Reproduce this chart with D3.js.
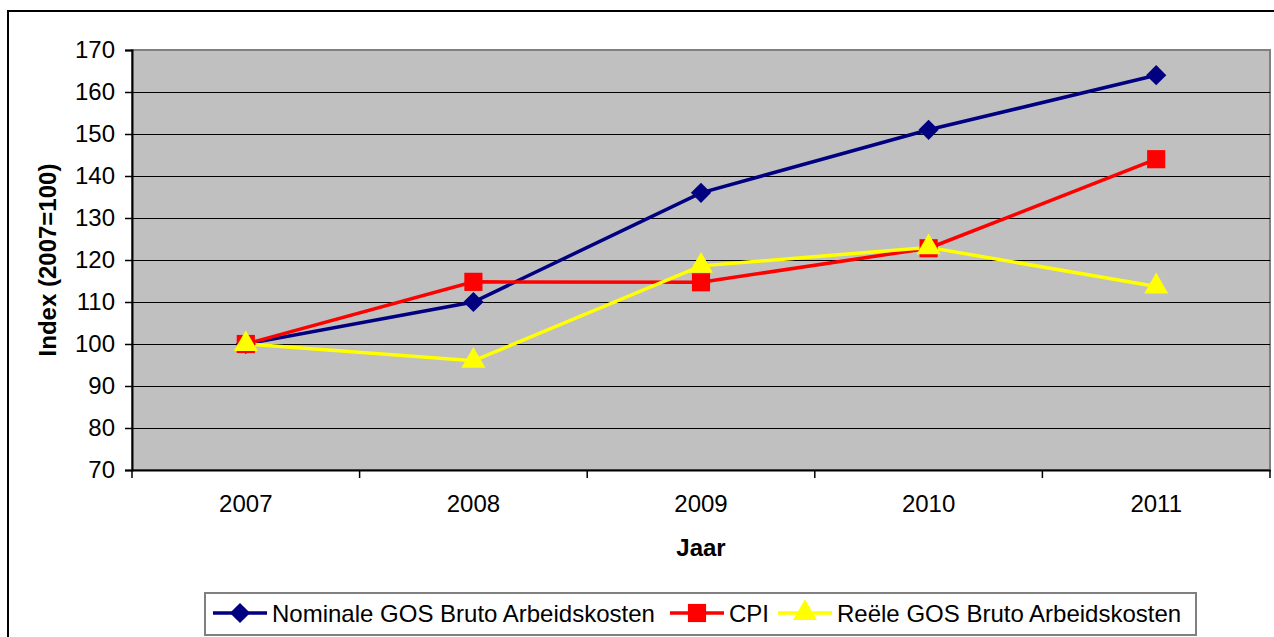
<!DOCTYPE html>
<html lang="nl">
<head>
<meta charset="UTF-8">
<title>Index GOS Bruto Arbeidskosten</title>
<style>
    body { margin: 0; background: #fff; font-family: 'Liberation Sans', Arial, sans-serif; }
    svg { display: block; }
    .grid line { stroke: #000; stroke-width: 1px; }
</style>
<script src="https://d3js.org/d3.v7.min.js"></script>
</head>
<body>
<svg id="chart" width="1274" height="637"></svg>
<script>
    // data
    const years = ["2007", "2008", "2009", "2010", "2011"];
    const nominaal = [100, 110, 136, 151, 164];
    const cpi = [100, 114.8, 114.7, 122.8, 144];
    const reeel = [100, 96, 118.6, 123, 113.7];
    const yTicks = [70, 80, 90, 100, 110, 120, 130, 140, 150, 160, 170];

    const series = [
        { name: "Nominale GOS Bruto Arbeidskosten", values: nominaal, color: "#000080", marker: "diamond" },
        { name: "CPI", values: cpi, color: "#ff0000", marker: "square" },
        { name: "Reële GOS Bruto Arbeidskosten", values: reeel, color: "#ffff00", marker: "triangle" }
    ];

    const svg = d3.select("#chart");
    const plot = { left: 132, right: 1270, top: 50, bottom: 470 };
    const fontSize = 24;
    const fontFamily = "'Liberation Sans', Arial, sans-serif";

    // outer chart border (top and left visible)
    svg.append("rect")
        .attr("x", 8).attr("y", 11)
        .attr("width", 1280).attr("height", 640)
        .attr("fill", "none").attr("stroke", "#000").attr("stroke-width", 2);

    const x = d3.scaleBand().domain(years).range([plot.left, plot.right]);
    const y = d3.scaleLinear().domain([70, 170]).range([plot.bottom, plot.top]);

    // plot area
    svg.append("rect")
        .attr("x", plot.left).attr("y", plot.top)
        .attr("width", plot.right - plot.left).attr("height", plot.bottom - plot.top)
        .attr("fill", "#c0c0c0").attr("stroke", "#808080").attr("stroke-width", 2);

    // gridlines
    svg.append("g").attr("class", "grid")
        .selectAll("line").data(yTicks.slice(1, -1)).join("line")
        .attr("x1", plot.left).attr("x2", plot.right)
        .attr("y1", d => Math.round(y(d)) + 0.5).attr("y2", d => Math.round(y(d)) + 0.5);

    // y axis
    const yAxis = svg.append("g")
        .attr("transform", `translate(${plot.left},0)`)
        .call(d3.axisLeft(y).tickValues(yTicks).tickSize(7).tickPadding(10));
    yAxis.select(".domain").attr("stroke", "#000").attr("stroke-width", 2);
    yAxis.selectAll(".tick line").attr("stroke", "#000").attr("stroke-width", 1.5);
    yAxis.selectAll("text").attr("font-size", fontSize).attr("font-family", fontFamily).attr("fill", "#000");

    // x axis
    const xAxis = svg.append("g")
        .attr("transform", `translate(0,${plot.bottom})`)
        .call(d3.axisBottom(x).tickSize(0).tickPadding(25));
    xAxis.select(".domain").attr("stroke", "#000").attr("stroke-width", 2);
    xAxis.selectAll("text").attr("font-size", fontSize).attr("font-family", fontFamily).attr("fill", "#000");
    // category boundary ticks
    const bounds = years.map(d => x(d)).concat([x(years[years.length - 1]) + x.bandwidth()]);
    xAxis.selectAll(".bound").data(bounds).join("line")
        .attr("class", "bound")
        .attr("x1", d => d).attr("x2", d => d)
        .attr("y1", 0).attr("y2", 8)
        .attr("stroke", "#000").attr("stroke-width", 1.5);

    // axis titles
    svg.append("text")
        .attr("transform", `translate(56,${(plot.top + plot.bottom) / 2}) rotate(-90)`)
        .attr("text-anchor", "middle")
        .attr("font-size", fontSize).attr("font-weight", "bold")
        .text("Index (2007=100)");
    svg.append("text")
        .attr("x", (plot.left + plot.right) / 2).attr("y", 556)
        .attr("text-anchor", "middle")
        .attr("font-size", fontSize).attr("font-weight", "bold")
        .text("Jaar");

    const cx = d => x(d) + x.bandwidth() / 2;

    function markerPath(type) {
        if (type === "diamond") return d3.symbol(d3.symbolDiamond2, 260)();
        if (type === "square") return d3.symbol(d3.symbolSquare, 330)();
        return d3.symbol(d3.symbolTriangle, 250)();
    }

    const line = d3.line().x((d, i) => cx(years[i])).y(d => y(d));

    series.forEach(s => {
        svg.append("path")
            .datum(s.values)
            .attr("fill", "none")
            .attr("stroke", s.color)
            .attr("stroke-width", 3.5)
            .attr("d", line);
    });
    series.forEach(s => {
        svg.append("g").selectAll("path").data(s.values).join("path")
            .attr("transform", (d, i) => `translate(${cx(years[i])},${y(d)})`)
            .attr("d", markerPath(s.marker))
            .attr("fill", s.color);
    });

    // legend
    const legend = svg.append("g");
    legend.append("rect")
        .attr("x", 205).attr("y", 593).attr("width", 991).attr("height", 42)
        .attr("fill", "#fff").attr("stroke", "#808080").attr("stroke-width", 2);
    const legendX = [213, 670, 778];
    series.forEach((s, i) => {
        const g = legend.append("g").attr("transform", `translate(${legendX[i]},613)`);
        g.append("line").attr("x1", 0).attr("x2", 54).attr("y1", 0).attr("y2", 0)
            .attr("stroke", s.color).attr("stroke-width", 3.5);
        g.append("path").attr("transform", "translate(27,0)")
            .attr("d", markerPath(s.marker)).attr("fill", s.color);
        g.append("text").attr("x", 59).attr("y", 8.5)
            .attr("font-size", fontSize)
            .text(s.name);
    });
</script>
</body>
</html>
